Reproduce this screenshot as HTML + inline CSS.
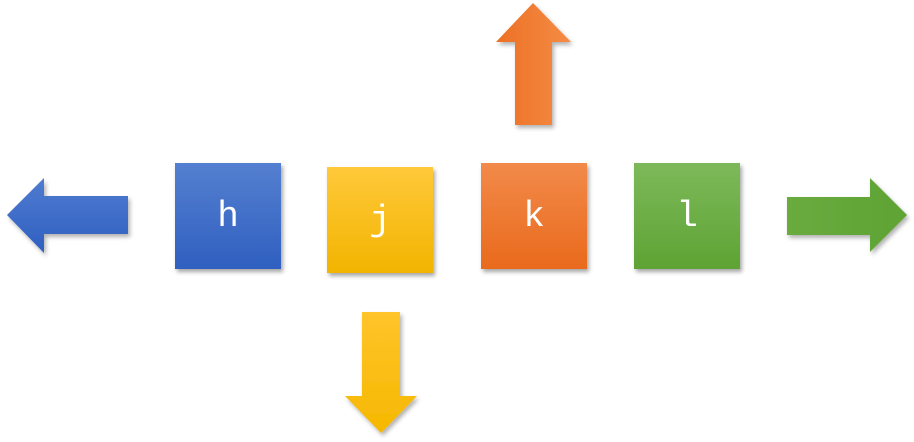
<!DOCTYPE html>
<html><head><style>
body{margin:0;width:914px;height:442px;background:#fff;position:relative;overflow:hidden;font-family:"Liberation Mono",monospace}
.b{position:absolute;width:106px;height:106px;color:#fff;font-size:36px;display:flex;align-items:center;justify-content:center;box-shadow:2px 3px 4px rgba(0,0,0,.35)}
svg{position:absolute;left:0;top:0}
</style></head><body>
<svg width="914" height="442">
<defs>
<linearGradient id="bl" x1="0" y1="0" x2="0" y2="1"><stop offset="0" stop-color="#4f7bd0"/><stop offset="1" stop-color="#2f5fc0"/></linearGradient>
<linearGradient id="or" x1="0" y1="0" x2="1" y2="0"><stop offset="0" stop-color="#ec7025"/><stop offset="1" stop-color="#f58c44"/></linearGradient>
<linearGradient id="ye" x1="0" y1="0" x2="0" y2="1"><stop offset="0" stop-color="#ffc42a"/><stop offset="1" stop-color="#f5b800"/></linearGradient>
<linearGradient id="gr" x1="0" y1="0" x2="1" y2="0"><stop offset="0" stop-color="#6aab3e"/><stop offset="1" stop-color="#5ea334"/></linearGradient>
<filter id="s"><feDropShadow dx="2" dy="3" stdDeviation="2" flood-opacity=".3"/></filter>
</defs>
<polygon filter="url(#s)" fill="url(#bl)" points="7,215 44,178 44,196 128,196 128,234 44,234 44,253"/>
<polygon filter="url(#s)" fill="url(#or)" points="533,3 571,42 552,42 552,125 515,125 515,42 496,42"/>
<polygon filter="url(#s)" fill="url(#ye)" points="381,433 417,396 400,396 400,312 362,312 362,396 345,396"/>
<polygon filter="url(#s)" fill="url(#gr)" points="907,215 870,178 870,197 787,197 787,235 870,235 870,252"/>
</svg>
<div class="b" style="left:175px;top:163px;background:linear-gradient(#5580d0,#2f5fc0)">h</div>
<div class="b" style="left:327px;top:167px;background:linear-gradient(#ffc93a,#f2b400)">j</div>
<div class="b" style="left:481px;top:163px;background:linear-gradient(#f28a4a,#e96a1c)">k</div>
<div class="b" style="left:634px;top:163px;background:linear-gradient(#7db95a,#5ea334)">l</div>
</body></html>
